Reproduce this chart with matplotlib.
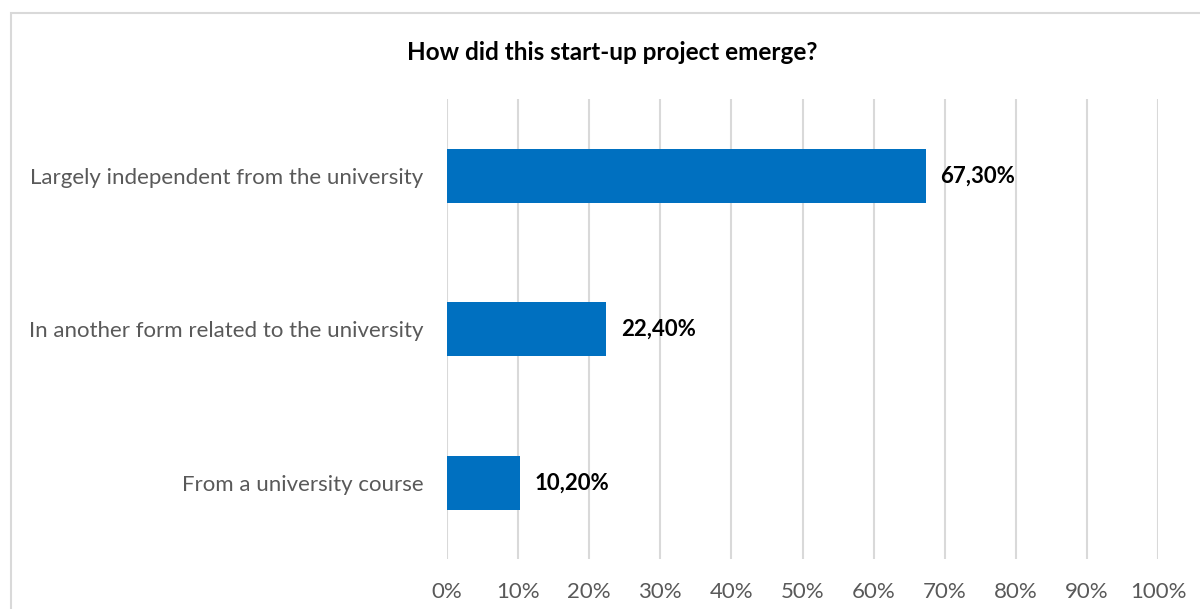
import matplotlib.pyplot as plt
from matplotlib.patches import Rectangle

# Survey answers, bottom to top as drawn
categories = ['From a university course',
              'In another form related to the university',
              'Largely independent from the university']
shares = [10.2, 22.4, 67.3]
value_labels = ['10,20%', '22,40%', '67,30%']
tick_values = list(range(0, 101, 10))
tick_labels = [f'{t}%' for t in tick_values]

plt.rcParams['font.family'] = ['Lato', 'DejaVu Sans']

fig = plt.figure(figsize=(12, 6.09), dpi=100)
ax = fig.add_axes([0.3725, 0.0813, 0.5925, 0.7561])

bars = ax.barh(range(len(categories)), shares, height=0.35, color='#0070C0', zorder=3)
ax.set_xlim(0, 100)
ax.set_ylim(-0.5, len(categories) - 0.5)

ax.set_yticks(range(len(categories)))
ax.set_yticklabels(categories, fontsize=16, color='#595959')
ax.set_xticks(tick_values)
ax.set_xticklabels(tick_labels, fontsize=16, color='#595959')
ax.tick_params(length=0)
ax.tick_params(axis='y', pad=17)
ax.tick_params(axis='x', pad=16)

ax.grid(axis='x', color='#d9d9d9', linewidth=1.5, zorder=0)
for s in ax.spines.values():
    s.set_visible(False)

# Value labels just right of each bar
for bar, lab in zip(bars, value_labels):
    ax.annotate(lab, (bar.get_width(), bar.get_y() + bar.get_height() / 2),
                xytext=(15, 0), textcoords='offset pixels',
                va='center', ha='left', fontsize=16, fontweight='bold', color='black')

fig.text(612 / 1200, 1 - 52 / 609, 'How did this start-up project emerge?',
         ha='center', va='center', fontsize=17.5, fontweight='bold', color='black')

# Light frame around the chart area
fig.patches.append(Rectangle((11 / 1200, -0.1), 1.2, 1 - 13 / 609 + 0.1,
                             transform=fig.transFigure, fill=False,
                             edgecolor='#d9d9d9', linewidth=1.5))

fig.savefig('out.png', dpi=100)
